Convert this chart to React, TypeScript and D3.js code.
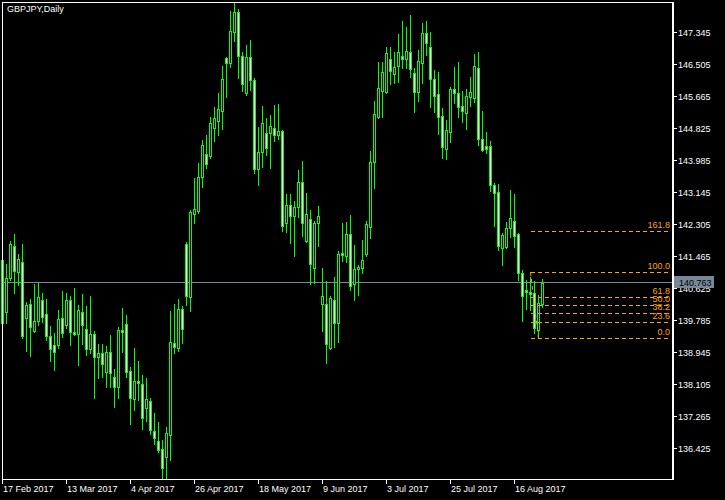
import React, { useEffect } from 'react';
import * as d3 from 'd3';

// GBPJPY daily, 17 Feb 2017 .. 24 Aug 2017 (one entry per bar)
const opens = [
  141.36, 140.00, 140.89, 141.73, 141.05, 141.31, 139.84, 140.21, 139.50, 139.76,
  140.31, 139.94, 139.37, 139.13, 139.13, 139.84, 139.65, 140.31, 139.47, 139.42,
  140.00, 139.55, 139.02, 139.42, 138.81, 138.92, 138.42, 138.95, 138.29, 138.03,
  139.52, 139.68, 138.45, 137.71, 138.18, 138.11, 137.48, 137.66, 136.87, 136.61,
  136.40, 136.19, 136.77, 139.18, 139.05, 140.07, 141.78, 140.39, 142.57, 142.65,
  143.54, 144.14, 144.09, 144.83, 145.01, 145.27, 146.66, 146.53, 147.35, 147.87,
  146.72, 145.74, 146.69, 146.09, 143.75, 144.20, 144.69, 144.69, 144.83, 144.64,
  144.75, 142.33, 142.80, 142.52, 142.75, 143.41, 141.86, 142.44, 141.15, 142.33,
  140.21, 140.21, 139.05, 140.31, 139.71, 141.54, 141.47, 142.04, 140.73, 141.12,
  141.15, 141.52, 142.23, 143.93, 145.11, 145.80, 145.77, 146.64, 146.24, 146.45,
  146.72, 146.64, 146.82, 146.27, 145.77, 146.53, 147.32, 146.95, 146.11, 145.72,
  145.14, 144.27, 144.72, 145.85, 145.74, 145.40, 145.22, 145.64, 145.61, 146.40,
  144.54, 144.35, 144.35, 143.33, 143.15, 141.68, 141.70, 142.20, 142.38, 142.04,
  141.02, 140.57, 140.52, 140.49, 139.52, 140.21,
];
const highs = [
  141.40, 141.26, 141.86, 142.04, 141.52, 141.78, 140.26, 140.34, 140.73, 140.76,
  140.49, 140.34, 139.63, 139.44, 140.05, 140.55, 140.49, 140.42, 140.63, 140.18,
  140.47, 140.15, 140.42, 139.50, 139.16, 139.16, 139.10, 139.39, 138.50, 139.60,
  140.10, 139.92, 138.55, 139.05, 138.71, 138.34, 138.26, 137.74, 137.34, 137.11,
  136.64, 136.98, 140.02, 140.21, 140.34, 140.15, 141.83, 142.67, 143.51, 143.91,
  144.51, 144.64, 145.11, 145.38, 145.74, 146.45, 146.69, 147.90, 148.11, 147.95,
  146.82, 147.00, 147.14, 146.14, 144.85, 145.40, 145.09, 145.17, 145.43, 145.46,
  144.77, 143.09, 143.09, 142.91, 143.72, 143.96, 143.12, 142.67, 142.38, 142.78,
  141.15, 140.81, 140.42, 140.91, 141.60, 142.33, 142.36, 142.54, 141.75, 141.23,
  141.89, 142.38, 144.22, 145.53, 146.56, 146.56, 146.95, 146.95, 146.82, 147.29,
  147.63, 147.48, 147.79, 146.40, 146.87, 147.58, 147.63, 147.35, 146.35, 146.30,
  145.35, 145.04, 145.90, 146.43, 146.56, 145.80, 145.85, 146.16, 146.77, 146.82,
  145.27, 144.72, 144.48, 143.38, 143.36, 142.07, 142.36, 143.20, 143.09, 142.07,
  141.10, 140.84, 140.91, 140.81, 140.44, 140.86,
];
const lows = [
  139.66, 139.71, 140.84, 140.49, 140.70, 139.31, 138.97, 138.84, 139.47, 139.65,
  139.73, 139.26, 138.71, 138.47, 139.05, 139.34, 139.58, 139.13, 139.39, 138.60,
  139.16, 138.87, 138.92, 137.74, 138.26, 138.29, 138.03, 138.03, 137.50, 137.74,
  138.95, 138.29, 137.06, 137.42, 137.69, 136.92, 137.13, 136.79, 136.53, 136.32,
  135.61, 135.61, 136.11, 138.92, 138.97, 139.18, 140.18, 140.02, 142.33, 142.59,
  143.28, 143.78, 144.04, 144.48, 144.64, 144.80, 145.64, 146.43, 147.11, 146.14,
  145.80, 145.69, 145.82, 143.64, 143.33, 143.80, 144.12, 143.78, 144.48, 144.54,
  142.12, 142.10, 141.81, 141.47, 142.49, 141.99, 141.83, 140.73, 140.76, 141.73,
  139.50, 138.66, 139.02, 139.08, 139.21, 141.33, 141.31, 140.57, 140.31, 140.44,
  141.02, 141.47, 141.94, 143.25, 145.09, 145.11, 145.74, 145.98, 146.01, 146.03,
  146.40, 146.40, 146.16, 145.25, 145.53, 146.01, 146.74, 145.38, 145.25, 144.67,
  144.04, 144.01, 144.46, 145.48, 145.11, 144.98, 144.80, 145.40, 145.51, 144.38,
  144.22, 144.17, 143.17, 142.25, 141.62, 141.23, 141.68, 141.96, 141.70, 140.84,
  139.76, 140.07, 140.05, 139.44, 139.31, 140.13,
];
const closes = [
  139.71, 140.89, 141.78, 141.07, 141.39, 139.37, 140.18, 139.60, 139.76, 140.39,
  139.86, 139.37, 139.02, 138.95, 139.81, 139.44, 140.31, 139.47, 139.42, 140.05,
  139.65, 139.02, 139.42, 138.81, 138.92, 138.63, 138.95, 138.39, 138.03, 139.52,
  139.47, 138.42, 137.74, 138.18, 138.13, 137.21, 137.71, 136.90, 136.69, 136.37,
  135.90, 136.82, 139.21, 139.08, 140.07, 139.55, 140.42, 142.62, 142.70, 143.54,
  144.38, 143.88, 144.96, 145.09, 145.32, 146.11, 146.53, 147.37, 147.87, 146.72,
  145.98, 146.69, 146.09, 143.75, 144.20, 144.96, 144.30, 144.88, 144.64, 144.75,
  142.25, 142.80, 142.52, 142.75, 143.41, 142.33, 142.57, 141.26, 142.33, 142.52,
  140.42, 139.16, 140.36, 139.71, 141.52, 141.49, 142.04, 140.68, 141.12, 141.18,
  141.36, 142.31, 143.93, 145.19, 145.88, 146.30, 146.79, 146.32, 146.43, 146.82,
  146.64, 146.85, 146.37, 145.77, 146.58, 147.32, 147.06, 146.11, 145.67, 145.11,
  144.33, 144.77, 145.85, 145.74, 145.38, 145.27, 145.67, 145.77, 146.45, 144.54,
  144.25, 144.27, 143.33, 143.12, 141.73, 142.02, 142.20, 142.46, 141.99, 141.02,
  140.42, 140.52, 140.47, 139.58, 140.23, 140.763,
];

const priceTicks = [
  147.345, 146.505, 145.665, 144.825, 143.985, 143.145, 142.305,
  141.465, 140.625, 139.785, 138.945, 138.105, 137.265, 136.425,
];
const dateTickBars = [0, 16, 32, 48, 64, 80, 96, 112, 128];
const dateTickLabels = [
  '17 Feb 2017', '13 Mar 2017', '4 Apr 2017', '26 Apr 2017', '18 May 2017',
  '9 Jun 2017', '3 Jul 2017', '25 Jul 2017', '16 Aug 2017',
];

// Fibonacci retracement drawn on the last swing
const fibHigh = 141.05;
const fibLow = 139.31;
const fibStartBar = 132;
const fibEndBar = 134;
const fibLevels = [0, 23.6, 38.2, 50, 61.8, 100, 161.8];

const W = 725;
const H = 500;
const plotRight = 672;
const plotBottom = 480;
const FONT = '"Liberation Sans", Arial, sans-serif';
const CANDLE = '#00ff00';
const FIB = '#ffa500';
const PRICE_LINE = '#778899';

export default function App() {
  useEffect(() => {
    document.body.style.margin = '0';
    document.body.style.background = '#000';
  }, []);

  const y = d3.scaleLinear().domain([148.185, 135.585]).range([0, plotBottom]);
  const x = d3.scaleBand<number>()
    .domain(d3.range(opens.length))
    .range([0.5, 0.5 + 4 * opens.length]);
  const cx = (i: number) => (x(i) as number) + x.bandwidth() / 2;
  const py = (v: number) => Math.round(y(v));

  const last = closes[closes.length - 1];
  const lastY = Math.floor(y(last)) + 0.5;

  const candles = opens.map((o, i) => {
    const c = closes[i];
    const xc = cx(i);
    const top = py(Math.max(o, c));
    const bot = py(Math.min(o, c));
    const bull = c >= o;
    return (
      <g key={i}>
        <line x1={xc} x2={xc} y1={py(highs[i])} y2={py(lows[i]) + 1} stroke={CANDLE} strokeWidth={1} />
        {bot - top > 0 ? (
          <rect x={xc - 1} y={top + 0.5} width={2} height={bot - top}
            fill={bull ? '#000' : '#fff'} stroke={CANDLE} strokeWidth={1} />
        ) : (
          <line x1={xc - 1.5} x2={xc + 1.5} y1={top + 0.5} y2={top + 0.5} stroke={CANDLE} strokeWidth={1} />
        )}
      </g>
    );
  });

  const fibX0 = cx(fibStartBar);
  const fibLines = fibLevels.map((lv) => {
    const v = fibLow + (fibHigh - fibLow) * lv / 100;
    const ly = py(v) + 0.5;
    return (
      <g key={lv}>
        <line x1={fibX0} x2={plotRight - 1} y1={ly} y2={ly} stroke={FIB} strokeDasharray="4,3" />
        <text x={670} y={ly - 3.5} textAnchor="end" fill={FIB} fontSize={9} fontFamily={FONT}>
          {lv.toFixed(1)}
        </text>
      </g>
    );
  });

  return (
    <svg width={W} height={H} style={{ position: 'absolute', left: 0, top: 0, display: 'block' }}
      shapeRendering="crispEdges">
      <rect x={0} y={0} width={W} height={H} fill="#000" />

      {/* current price line */}
      <line x1={2} x2={plotRight} y1={lastY} y2={lastY} stroke={PRICE_LINE} />

      {candles}

      {/* fibonacci */}
      {fibLines}
      <line x1={fibX0} y1={py(fibHigh)} x2={cx(fibEndBar)} y2={py(fibLow)}
        stroke={FIB} strokeDasharray="4,3" shapeRendering="auto" />

      {/* frame */}
      <line x1={2} x2={673} y1={2.5} y2={2.5} stroke="#fff" />
      <line x1={2.5} x2={2.5} y1={2} y2={plotBottom} stroke="#fff" />
      <line x1={2} x2={673} y1={479.5} y2={479.5} stroke="#fff" />
      <line x1={plotRight + 0.5} x2={plotRight + 0.5} y1={2} y2={plotBottom} stroke="#fff" strokeWidth={2} />

      {/* price axis */}
      {priceTicks.map((v) => {
        const ty = py(v) + 0.5;
        return (
          <g key={v}>
            <line x1={673} x2={677} y1={ty} y2={ty} stroke="#fff" />
            <text x={678} y={ty + 3.5} fill="#fff" fontSize={9} fontFamily={FONT}>{v.toFixed(3)}</text>
          </g>
        );
      })}
      <rect x={674} y={276} width={40} height={12} fill={PRICE_LINE} />
      <text x={679} y={285.5} fill="#000" fontSize={9} fontFamily={FONT}>{last.toFixed(3)}</text>

      {/* time axis */}
      {dateTickBars.map((b, k) => {
        const tx = Math.floor(cx(b)) + 0.5;
        return (
          <g key={b}>
            <line x1={tx} x2={tx} y1={480} y2={484} stroke="#fff" />
            <text x={tx + 0.5} y={492} fill="#fff" fontSize={9} fontFamily={FONT}>{dateTickLabels[k]}</text>
          </g>
        );
      })}

      <text x={7} y={12} fill="#fff" fontSize={9} fontFamily={FONT}>GBPJPY,Daily</text>
    </svg>
  );
}
